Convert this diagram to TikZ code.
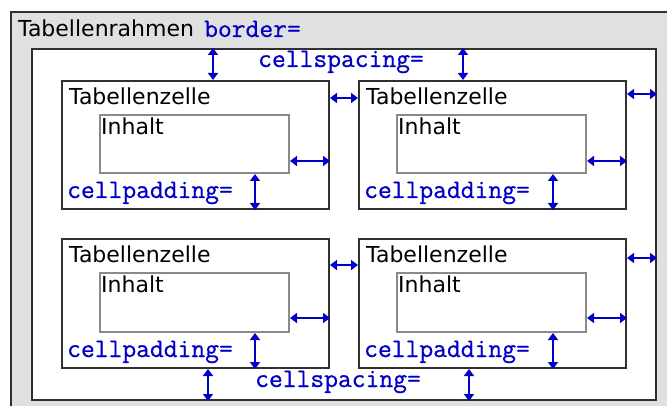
\documentclass[tikz,border=0pt]{standalone}
\usepackage{fontspec}
\setmainfont{DejaVu Sans}
\newfontfamily\monof{Latin Modern Mono}[FakeBold=0.7]
\usetikzlibrary{arrows.meta}
\definecolor{bggray}{HTML}{E0E0E0}
\definecolor{darkln}{HTML}{303030}
\definecolor{inhln}{HTML}{8A8A8A}
\definecolor{attrblue}{HTML}{0000C8}
\begin{document}
\begin{tikzpicture}[x=1pt,y=-1pt,
  tabbox/.style={draw=darkln,line width=2pt,fill=white,inner sep=0pt,anchor=north west,minimum width=624pt,minimum height=351pt},
  cellbox/.style={draw=darkln,line width=2pt,fill=white,inner sep=0pt,anchor=north west,minimum width=267pt,minimum height=128pt},
  inhbox/.style={draw=inhln,line width=2pt,fill=white,inner sep=0pt,anchor=north west,minimum width=189pt,minimum height=58pt},
  lbl/.style={anchor=base west,inner sep=0pt,font=\fontsize{22}{26}\selectfont,text=black},
  attr/.style={anchor=base west,inner sep=0pt,font=\monof\fontsize{26.8}{30}\selectfont,text=attrblue},
  dim/.style={draw=attrblue,line width=2pt,{Triangle[width=10pt,length=7pt]}-{Triangle[width=10pt,length=7pt]}}
]
\useasboundingbox (0,0) rectangle (667,406);
\fill[white] (0,0) rectangle (667,406);
\fill[bggray] (11,12) rectangle (667,406);
\draw[darkln,line width=2pt] (11,406) -- (11,12) -- (667,12);

\node[lbl] (rahmen) at (18,37) {Tabellenrahmen};
\node[attr] (border) at (204,37) {border=};

\node[tabbox] (tab) at (31,48) {};

\node[cellbox] (c1) at (61,80) {};
\node[cellbox] (c2) at (358,80) {};
\node[cellbox,minimum height=129pt] (c3) at (61,238) {};
\node[cellbox,minimum height=129pt] (c4) at (358,238) {};

\node[inhbox] (i1) at (99,114) {};
\node[inhbox] (i2) at (396,114) {};
\node[inhbox,minimum height=59pt] (i3) at (99,272) {};
\node[inhbox,minimum height=59pt] (i4) at (396,272) {};

\node[attr] (cs1) at (258,67) {cellspacing=};
\node[attr] (cs2) at (255,387) {cellspacing=};

\node[lbl] (z1) at (69,105) {Tabellenzelle};
\node[lbl] (z2) at (366,105) {Tabellenzelle};
\node[lbl] (z3) at (69,263) {Tabellenzelle};
\node[lbl] (z4) at (366,263) {Tabellenzelle};

\node[lbl] (h1) at (101,135) {Inhalt};
\node[lbl] (h2) at (398,135) {Inhalt};
\node[lbl] (h3) at (101,293) {Inhalt};
\node[lbl] (h4) at (398,293) {Inhalt};

\node[attr] (p1) at (67,198) {cellpadding=};
\node[attr] (p2) at (364,198) {cellpadding=};
\node[attr] (p3) at (67,357) {cellpadding=};
\node[attr] (p4) at (364,357) {cellpadding=};

% cellspacing arrows (vertical)
\draw[dim] (tab.north -| 213,0) -- (c1.north -| 213,0);
\draw[dim] (tab.north -| 463,0) -- (c2.north -| 463,0);
\draw[dim] (c3.south -| 208,0) -- (tab.south -| 208,0);
\draw[dim] (c4.south -| 469,0) -- (tab.south -| 469,0);
% cellspacing arrows (horizontal)
\draw[dim] (c1.east |- 0,98) -- (c2.west |- 0,98);
\draw[dim] (c2.east |- 0,94) -- (tab.east |- 0,94);
\draw[dim] (c3.east |- 0,265) -- (c4.west |- 0,265);
\draw[dim] (c4.east |- 0,258) -- (tab.east |- 0,258);
% cellpadding arrows
\draw[dim] (i1.east |- 0,161) -- (c1.east |- 0,161);
\draw[dim] (i2.east |- 0,161) -- (c2.east |- 0,161);
\draw[dim] (i3.east |- 0,318) -- (c3.east |- 0,318);
\draw[dim] (i4.east |- 0,318) -- (c4.east |- 0,318);
\draw[dim] (i1.south -| 255,0) -- (c1.south -| 255,0);
\draw[dim] (i2.south -| 553,0) -- (c2.south -| 553,0);
\draw[dim] (i3.south -| 255,0) -- (c3.south -| 255,0);
\draw[dim] (i4.south -| 553,0) -- (c4.south -| 553,0);
\end{tikzpicture}
\end{document}
